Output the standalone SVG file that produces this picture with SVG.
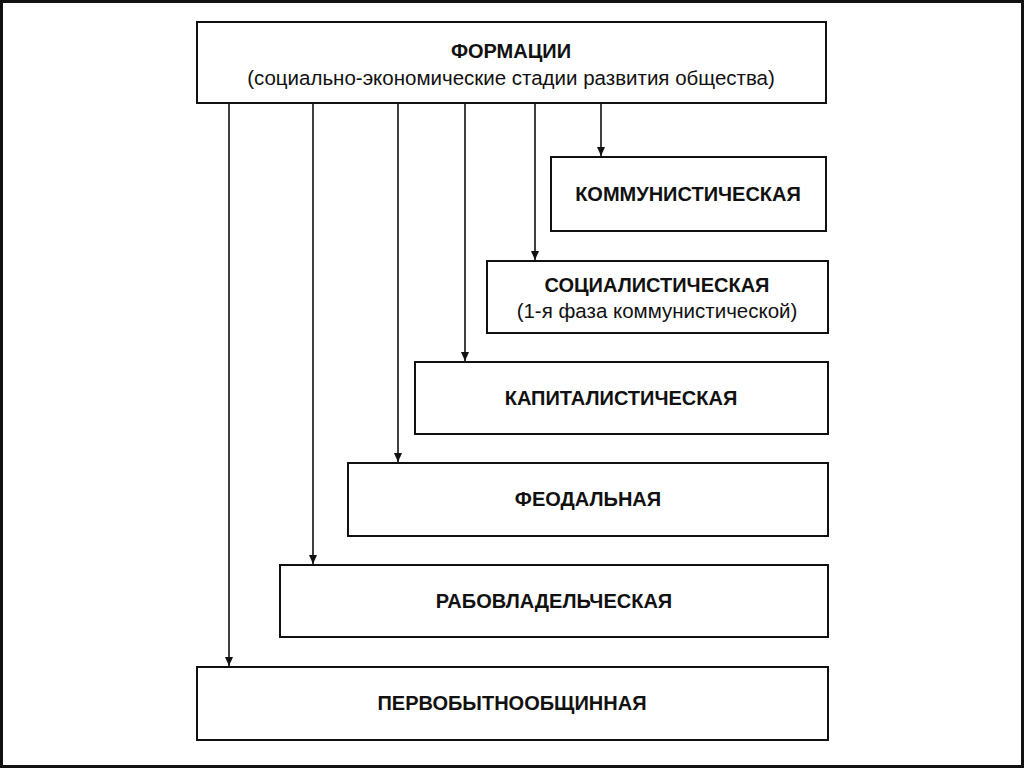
<svg xmlns="http://www.w3.org/2000/svg" width="1024" height="768" viewBox="0 0 1024 768">
<style>
.b{fill:#fff;stroke:#111;stroke-width:2}
.t{font-family:"Liberation Sans",Arial,sans-serif;font-size:20.5px;fill:#111;text-anchor:middle}
.h{font-weight:bold;font-size:20px}
.c line{stroke:#111;stroke-width:1.6;marker-end:url(#a)}
</style>
<defs><marker id="a" markerWidth="10" markerHeight="10" refX="9" refY="5" orient="auto" markerUnits="userSpaceOnUse"><path d="M0,1 L9,5 L0,9 Z" fill="#111"/></marker></defs>
<rect x="0" y="0" width="1024" height="768" fill="#fff"/>
<rect x="1.5" y="1.5" width="1021" height="765" fill="none" stroke="#111" stroke-width="3"/>
<g id="top"><rect class="b" x="197" y="22" width="629" height="81"/>
<text class="t h" x="511" y="58">ФОРМАЦИИ</text>
<text class="t" x="511" y="85">(социально-экономические стадии развития общества)</text></g>
<g id="n1"><rect class="b" x="551" y="157" width="275" height="74"/><text class="t h" x="688" y="201">КОММУНИСТИЧЕСКАЯ</text></g>
<g id="n2"><rect class="b" x="487" y="261" width="341" height="72"/><text class="t h" x="657" y="292">СОЦИАЛИСТИЧЕСКАЯ</text><text class="t" x="657" y="318">(1-я фаза коммунистической)</text></g>
<g id="n3"><rect class="b" x="415" y="362" width="413" height="72"/><text class="t h" x="621" y="405">КАПИТАЛИСТИЧЕСКАЯ</text></g>
<g id="n4"><rect class="b" x="348" y="463" width="480" height="73"/><text class="t h" x="588" y="506">ФЕОДАЛЬНАЯ</text></g>
<g id="n5"><rect class="b" x="280" y="565" width="548" height="72"/><text class="t h" x="554" y="608">РАБОВЛАДЕЛЬЧЕСКАЯ</text></g>
<g id="n6"><rect class="b" x="197" y="667" width="631" height="73"/><text class="t h" x="512" y="710">ПЕРВОБЫТНООБЩИННАЯ</text></g>
<g class="c" id="connectors">
<line x1="601" y1="104" x2="601" y2="156"/>
<line x1="535" y1="104" x2="535" y2="260"/>
<line x1="465" y1="104" x2="465" y2="361"/>
<line x1="398" y1="104" x2="398" y2="462"/>
<line x1="313" y1="104" x2="313" y2="564"/>
<line x1="229" y1="104" x2="229" y2="666"/>
</g>
</svg>
